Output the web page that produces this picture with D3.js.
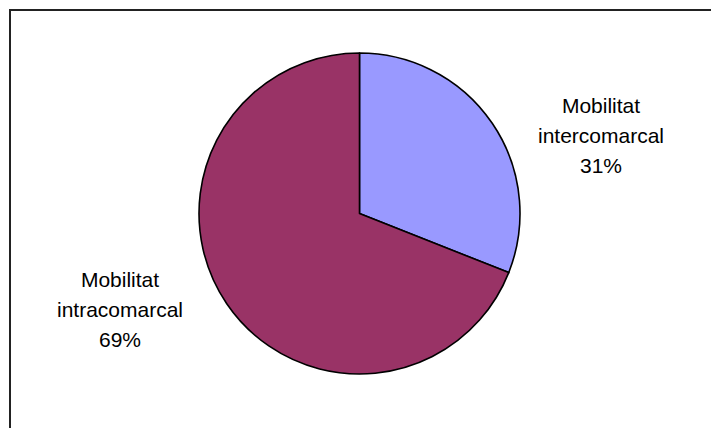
<!DOCTYPE html>
<html>
<head>
<meta charset="utf-8">
<script src="https://cdn.jsdelivr.net/npm/d3@7"></script>
<style>
  html, body { margin: 0; padding: 0; background: #fff; }
  svg { display: block; }
</style>
</head>
<body>
<svg id="chart" width="711" height="428"></svg>
<script>
const categories = ["Mobilitat intercomarcal", "Mobilitat intracomarcal"];
const values = [31, 69];
const percentLabels = ["31%", "69%"];
const colors = ["#9999FF", "#993366"];

const svg = d3.select("#chart");
const W = 711, H = 428;

// chart area border (extends past the bottom/right of the window)
svg.append("rect")
  .attr("x", 10).attr("y", 10)
  .attr("width", 760).attr("height", 480)
  .attr("fill", "#fff")
  .attr("stroke", "#222")
  .attr("stroke-width", 2);

const cx = 359.5, cy = 213.5, r = 160.5;

const pie = d3.pie().sort(null).value(d => d)
  .startAngle(0).endAngle(2 * Math.PI);
const arcs = pie(values);
const arc = d3.arc().innerRadius(0).outerRadius(r);

const g = svg.append("g").attr("transform", `translate(${cx},${cy})`);
g.selectAll("path")
  .data(arcs)
  .join("path")
  .attr("d", arc)
  .attr("fill", (d, i) => colors[i])
  .attr("stroke", "#000")
  .attr("stroke-width", 1.6)
  .attr("stroke-linejoin", "round");

// labels
const labelPos = [
  { x: 601, y: 112.5 },
  { x: 120, y: 287 }
];
const lineH = 30;
categories.forEach((c, i) => {
  const words = c.split(" ");
  const lines = [...words, percentLabels[i]];
  const t = svg.append("text")
    .attr("text-anchor", "middle")
    .attr("font-family", "Liberation Sans, Arial, sans-serif")
    .attr("font-size", 21)
    .attr("fill", "#000");
  lines.forEach((ln, k) => {
    t.append("tspan")
      .attr("x", labelPos[i].x)
      .attr("y", labelPos[i].y + k * lineH)
      .text(ln);
  });
});
</script>
</body>
</html>
